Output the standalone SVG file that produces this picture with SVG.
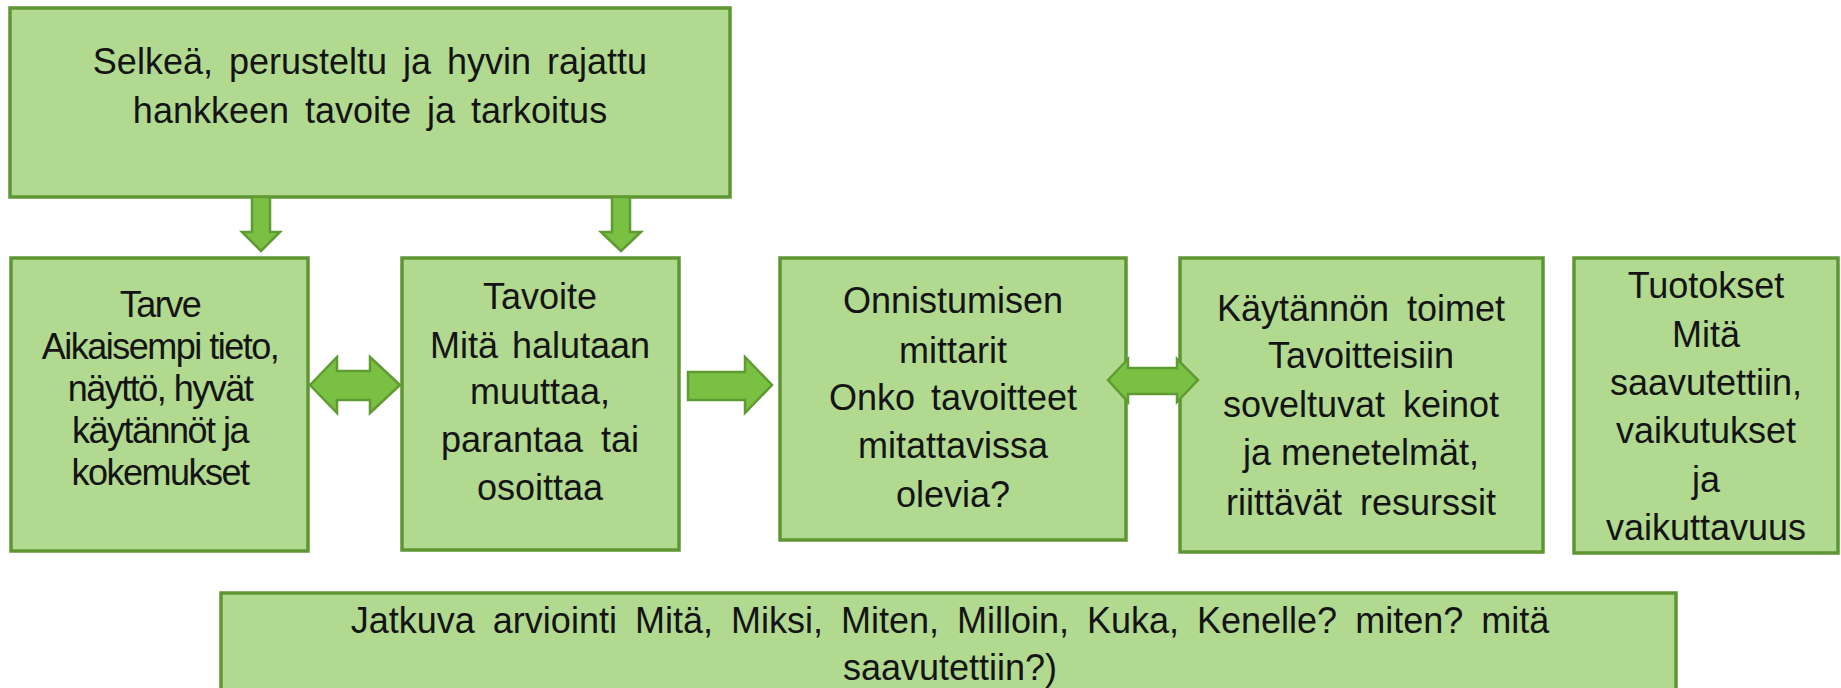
<svg xmlns="http://www.w3.org/2000/svg" width="1841" height="688" viewBox="0 0 1841 688">
<style>
.box{fill:#B1D98F;stroke:#5F9634;stroke-width:3.5}
.arr{fill:#7AC143;stroke:#5F9A33;stroke-width:2.5;stroke-linejoin:miter}
text{font-family:"Liberation Sans",Arial,sans-serif;font-size:36px;fill:#141414;text-anchor:middle}
.cond{letter-spacing:-1.5px}
.ws{word-spacing:8px}
</style>
<rect width="1841" height="688" fill="#ffffff"/>
<g id="node-top">
<rect class="box" x="10" y="8" width="720" height="189"/>
<text x="370" y="74" style="word-spacing:6px">Selkeä, perusteltu ja hyvin rajattu</text>
<text x="370" y="123" style="word-spacing:6px">hankkeen tavoite ja tarkoitus</text>
</g>
<g id="node-tarve">
<rect class="box" x="11" y="258" width="297" height="293"/>
<text class="cond" x="160" y="317">Tarve</text>
<text class="cond" x="160" y="359">Aikaisempi tieto,</text>
<text class="cond" x="160" y="401">näyttö, hyvät</text>
<text class="cond" x="160" y="443">käytännöt ja</text>
<text class="cond" x="160" y="485">kokemukset</text>
</g>
<g id="node-tavoite">
<rect class="box" x="402" y="258" width="277" height="292"/>
<text x="540" y="309">Tavoite</text>
<text x="540" y="358" style="word-spacing:4px">Mitä halutaan</text>
<text x="540" y="404">muuttaa,</text>
<text x="540" y="452" style="word-spacing:8px">parantaa tai</text>
<text x="540" y="500">osoittaa</text>
</g>
<g id="node-mittarit">
<rect class="box" x="780" y="258" width="346" height="282"/>
<text x="953" y="313">Onnistumisen</text>
<text x="953" y="363">mittarit</text>
<text x="953" y="410" style="word-spacing:6px">Onko tavoitteet</text>
<text x="953" y="458">mitattavissa</text>
<text x="953" y="507">olevia?</text>
</g>
<g id="node-toimet">
<rect class="box" x="1180" y="258" width="363" height="294"/>
<text class="ws" x="1361" y="321">Käytännön toimet</text>
<text x="1361" y="368">Tavoitteisiin</text>
<text class="ws" x="1361" y="417">soveltuvat keinot</text>
<text x="1361" y="465">ja menetelmät,</text>
<text class="ws" x="1361" y="515">riittävät resurssit</text>
</g>
<g id="node-tuotokset">
<rect class="box" x="1574" y="258" width="264" height="295"/>
<text x="1706" y="298">Tuotokset</text>
<text x="1706" y="347">Mitä</text>
<text x="1706" y="395">saavutettiin,</text>
<text x="1706" y="443">vaikutukset</text>
<text x="1706" y="492">ja</text>
<text x="1706" y="540">vaikuttavuus</text>
</g>
<g id="node-arviointi">
<rect class="box" x="221" y="593" width="1455" height="120"/>
<text class="ws" x="950" y="633">Jatkuva arviointi Mitä, Miksi, Miten, Milloin, Kuka, Kenelle? miten? mitä</text>
<text x="950" y="680">saavutettiin?)</text>
</g>
<g id="connectors">
<path class="arr" d="M252,197 L270,197 L270,232 L280,232 L261,251 L242,232 L252,232 Z"/>
<path class="arr" d="M612,197 L630,197 L630,232 L641,232 L621,251 L601,232 L612,232 Z"/>
<path class="arr" d="M310,385 L337,357 L337,371 L370,371 L370,357 L400,385 L370,413 L370,400 L337,400 L337,413 Z"/>
<path class="arr" d="M688,372 L745,372 L745,357 L772,385 L745,413 L745,400 L688,400 Z"/>
<path class="arr" d="M1108,380 L1128,359 L1128,368 L1177,368 L1177,359 L1198,380 L1177,402 L1177,394 L1128,394 L1128,402 Z"/>
</g>
</svg>
